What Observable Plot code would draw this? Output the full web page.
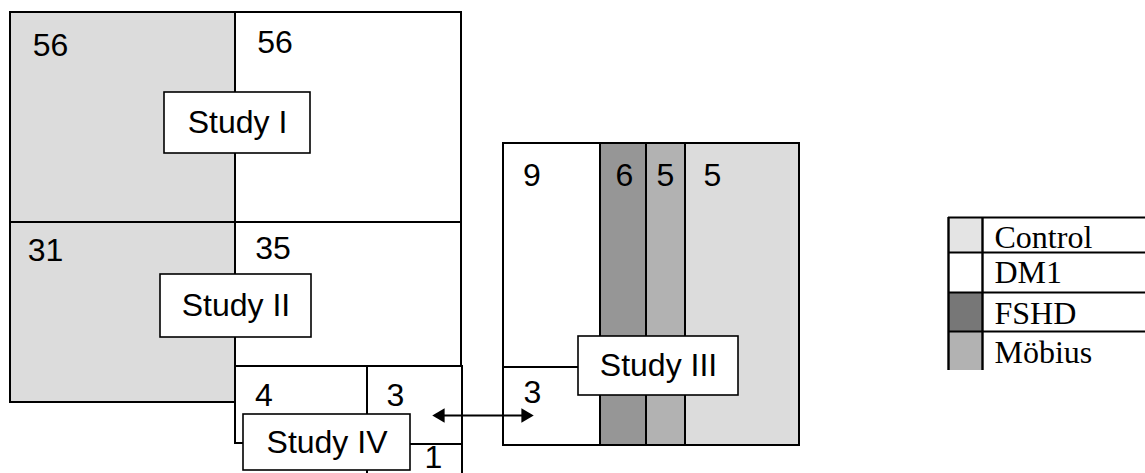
<!DOCTYPE html>
<html>
<head>
<meta charset="utf-8">
<script src="https://cdn.jsdelivr.net/npm/d3@7"></script>
<script src="https://cdn.jsdelivr.net/npm/@observablehq/plot@0.6"></script>
<style>
  html, body { margin: 0; padding: 0; background: #fff; overflow: hidden; }
  svg { display: block; }
</style>
</head>
<body>
<div id="chart"></div>
<script>
// ---------- data ----------
const groups = ["Control", "DM1", "FSHD", "Möbius"];
const studies = ["Study I", "Study II", "Study III", "Study IV"];
const cellStudy = ["Study I", "Study I", "Study II", "Study II", "Study IV", "Study IV", "Study IV",
                   "Study III", "Study III", "Study III", "Study III", "Study III"];
const cellGroup = ["Control", "DM1", "Control", "DM1", "DM1", "DM1", "DM1",
                   "DM1", "DM1", "FSHD", "Möbius", "Control"];
const cellCount = [56, 56, 31, 35, 4, 3, 1, 9, 3, 6, 5, 5];

// ---------- layout (diagram grid units) ----------
const cellBox = [
  [10, 235, 12, 222], [235, 461, 12, 222],
  [10, 235, 222, 402], [235, 461, 222, 366],
  [235, 367, 366, 443], [367, 462, 366, 444], [367, 462, 444, 495],
  [503, 600, 143, 367], [503, 600, 367, 445], [600, 646, 143, 445], [646, 685, 143, 445], [685, 799, 143, 445]
];
const cellLabelAt = [
  [50, 55], [274.5, 52],
  [45, 260], [272.5, 258],
  [263.5, 405], [395, 405], [433, 467],
  [531.5, 185], [532, 402], [624, 185], [665, 185], [712, 185]
];
const studyBox = [[164, 310, 92, 153], [160, 311, 274, 337], [578, 738, 336, 395], [243, 410, 414, 470]];
const arrowSpan = [432, 533, 415];           // from, to, level
const legendCols = [948, 982, 1145];
const legendRows = [217, 252, 292, 331, 370];
const legendBaseline = [247, 282, 323, 362];

// ---------- styles ----------
const cellFill = {"Control": "#dcdcdc", "DM1": "#ffffff", "FSHD": "#969696", "Möbius": "#b2b2b2"};
const legendFill = {"Control": "#e4e4e4", "DM1": "#ffffff", "FSHD": "#777777", "Möbius": "#b2b2b2"};
const sans = "'Liberation Sans', Arial, Helvetica, sans-serif";
const serif = "'Liberation Serif', 'Times New Roman', serif";

// ---------- tables ----------
const cells = cellCount.map((n, i) => ({
  study: cellStudy[i], group: cellGroup[i], n,
  x1: cellBox[i][0], x2: cellBox[i][1], y1: cellBox[i][2], y2: cellBox[i][3],
  lx: cellLabelAt[i][0], ly: cellLabelAt[i][1]
}));
const boxes = studies.map((s, i) => ({
  study: s, x1: studyBox[i][0], x2: studyBox[i][1], y1: studyBox[i][2], y2: studyBox[i][3]
}));
const arrowLine = [{x1: arrowSpan[0] + 6, x2: arrowSpan[1] - 6, y: arrowSpan[2]}];
const arrowHeads = [
  {x: arrowSpan[0] + 8, y: arrowSpan[2], angle: -90},
  {x: arrowSpan[1] - 8, y: arrowSpan[2], angle: 90}
];
const legend = groups.map((g, i) => ({
  group: g, y1: legendRows[i], y2: legendRows[i + 1], base: legendBaseline[i]
}));
const legendHLines = legendRows.slice(0, 4).map(y => ({y}));
const legendVLines = legendCols.slice(0, 2).map(x => ({x}));

const chart = Plot.plot({
  width: 1145,
  height: 473,
  margin: 0,
  x: {domain: [0, 1145], range: [0, 1145], axis: null},
  y: {domain: [0, 473], range: [0, 473], axis: null},
  color: {type: "identity"},
  style: {background: "#fff", overflow: "hidden"},
  marks: [
    // cells
    Plot.rect(cells, {x1: "x1", x2: "x2", y1: "y1", y2: "y2",
      fill: d => cellFill[d.group], stroke: "#000", strokeWidth: 2}),
    // study boxes
    Plot.rect(boxes, {x1: "x1", x2: "x2", y1: "y1", y2: "y2",
      fill: "#fff", stroke: "#000", strokeWidth: 1.6}),
    Plot.text(boxes, {x: d => (d.x1 + d.x2) / 2, y: d => (d.y1 + d.y2) / 2, text: "study",
      fontSize: 32, fontFamily: sans, fill: "#000", textAnchor: "middle", lineAnchor: "middle"}),
    // cell counts
    Plot.text(cells, {x: "lx", y: "ly", text: d => String(d.n),
      fontSize: 32, fontFamily: sans, fill: "#000", textAnchor: "middle", lineAnchor: "bottom"}),
    // double-headed arrow
    Plot.link(arrowLine, {x1: "x1", x2: "x2", y1: "y", y2: "y", stroke: "#000", strokeWidth: 2}),
    Plot.dot(arrowHeads, {x: "x", y: "y", rotate: "angle", symbol: "triangle", r: 5.3,
      fill: "#000", stroke: "none"}),
    // legend
    Plot.rect(legend, {x1: () => legendCols[0], x2: () => legendCols[1], y1: "y1", y2: "y2",
      fill: d => legendFill[d.group]}),
    Plot.ruleY(legendHLines, {y: "y", x1: () => legendCols[0], x2: () => legendCols[2],
      stroke: "#000", strokeWidth: 2.2}),
    Plot.ruleX(legendVLines, {x: "x", y1: () => legendRows[0], y2: () => legendRows[4],
      stroke: "#000", strokeWidth: 2.4}),
    Plot.text(legend, {x: () => legendCols[1] + 12, y: "base", text: "group",
      fontSize: 32, fontFamily: serif, fill: "#000", textAnchor: "start", lineAnchor: "bottom"})
  ]
});
document.getElementById("chart").appendChild(chart);
</script>
</body>
</html>
